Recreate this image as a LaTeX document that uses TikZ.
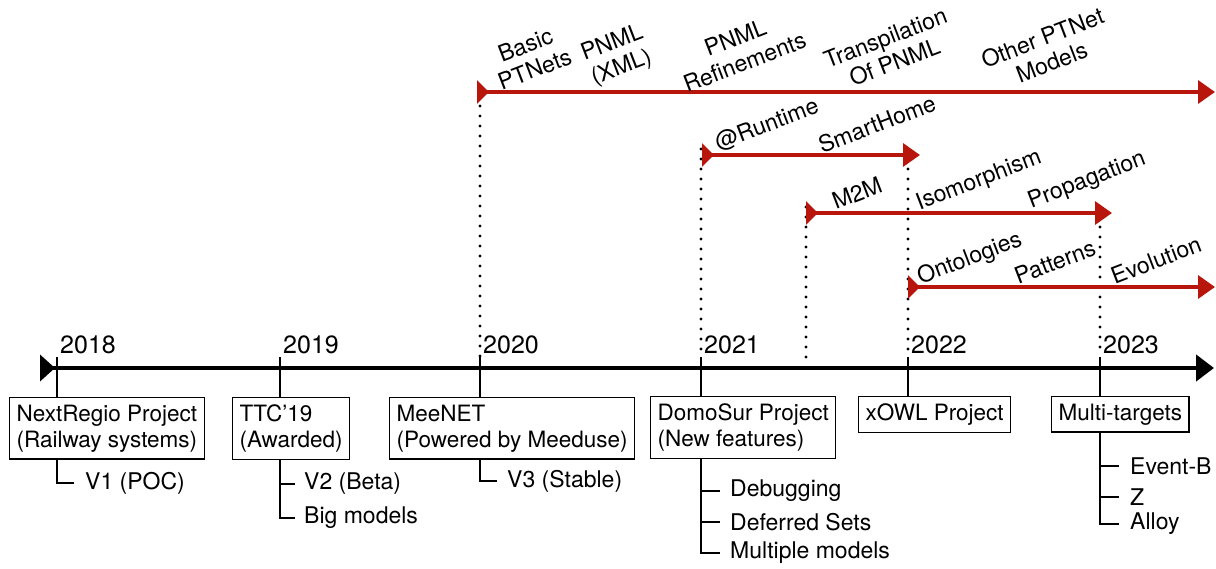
\documentclass[tikz,border=0pt]{standalone}
\usepackage{fontspec}
\setmainfont{TeX Gyre Heros}
\usetikzlibrary{arrows.meta}
\definecolor{tlred}{RGB}{184,22,12}
\begin{document}
\begin{tikzpicture}[x=1pt,y=-1pt,
  every node/.style={font=\fontsize{22.5}{26}\selectfont},
  projbox/.style={draw, line width=1.2pt, align=left, inner xsep=7pt, inner ysep=7pt, anchor=north west},
  subitem/.style={anchor=west, inner sep=0pt, font=\fontsize{23}{26}\selectfont},
  yearlbl/.style={anchor=base west, inner sep=0pt, font=\fontsize{25}{28}\selectfont},
  lbl/.style={rotate=21, align=center, inner sep=0pt, font=\fontsize{23}{26}\selectfont},
  yeartick/.style={line width=1.8pt},
  branch/.style={line width=1.5pt},
  timeline/.style={line width=4.5pt, {Triangle[reversed,length=15pt,width=26pt]}-{Triangle[length=18pt,width=26pt]}},
  redarrow/.style={tlred, line width=3.5pt, {Triangle[reversed,length=12pt,width=23pt]}-{Triangle[length=17pt,width=23pt]}},
  dotline/.style={line width=3.2pt, dash pattern=on 0pt off 10pt, line cap=round},
]
\useasboundingbox (0,0) rectangle (1216,568);

% main timeline
\coordinate (ls) at (40,368);
\coordinate (le) at (1214,368);
\draw[timeline] (ls) -- (le);

% years
\foreach \n/\x in {2018/57,2019/280,2020/480,2021/701,2022/908,2023/1100}{
  \coordinate (y\n) at (\x,357);
  \node[yearlbl] (yl\n) at (\x+3,353) {\n};
}
\coordinate (m2mbase) at (806,358);

% project boxes
\node[projbox] (nr) at (9,397) {NextRegio Project\\(Railway systems)};
\node[projbox] (ttc) at (232,397) {TTC’19\\(Awarded)};
\node[projbox] (mee) at (389,397) {MeeNET\\(Powered by Meeduse)};
\node[projbox] (ds) at (650,396) {DomoSur Project\\(New features)};
\node[projbox] (xowl) at (858,396) {xOWL Project};
\node[projbox] (mt) at (1051,396) {Multi-targets};

\draw[yeartick] (y2018) -- (y2018 |- nr.north);
\draw[yeartick] (y2019) -- (y2019 |- ttc.north);
\draw[yeartick] (y2020) -- (y2020 |- mee.north);
\draw[yeartick] (y2021) -- (y2021 |- ds.north);
\draw[yeartick] (y2022) -- (y2022 |- xowl.north);
\draw[yeartick] (y2023) -- (y2023 |- mt.north);

% sub items
\node[subitem] (v1) at (85,483) {V1 (POC)};
\node[subitem] (v2) at (304,484) {V2 (Beta)};
\node[subitem] (big) at (304,518) {Big models};
\node[subitem] (v3) at (507,481) {V3 (Stable)};
\node[subitem] (deb) at (730,491) {Debugging};
\node[subitem] (defs) at (730,522) {Deferred Sets};
\node[subitem] (mult) at (730,553) {Multiple models};
\node[subitem] (evb) at (1130,466) {Event-B};
\node[subitem] (zz) at (1130,497) {Z};
\node[subitem] (alloy) at (1130,524) {Alloy};

\draw[branch] (y2018 |- nr.south) |- ([xshift=-11pt]v1.west);
\draw[branch] (y2019 |- ttc.south) |- ([xshift=-9pt]v2.west);
\draw[branch] (y2019 |- ttc.south) |- ([xshift=-9pt]big.west);
\draw[branch] (y2020 |- mee.south) |- ([xshift=-10pt]v3.west);
\draw[branch] (y2021 |- ds.south) |- ([xshift=-10pt]deb.west);
\draw[branch] (y2021 |- ds.south) |- ([xshift=-10pt]defs.west);
\draw[branch] (y2021 |- ds.south) |- ([xshift=-10pt]mult.west);
\draw[branch] (y2023 |- mt.south) |- ([xshift=-11pt]evb.west);
\draw[branch] (y2023 |- mt.south) |- ([xshift=-11pt]zz.west);
\draw[branch] (y2023 |- mt.south) |- ([xshift=-11pt]alloy.west);

% red arrows
\coordinate (a1s) at (477,92);   \coordinate (a1e) at (1215,92);
\coordinate (a2s) at (702,155);  \coordinate (a2e) at (920,155);
\coordinate (a3s) at (806,213);  \coordinate (a3e) at (1112,213);
\coordinate (a4s) at (908,287);  \coordinate (a4e) at (1215,287);

% dotted guides
\draw[dotline] ([yshift=6pt]y2020 |- a1s) -- (y2020);
\draw[dotline] ([yshift=6pt]y2021 |- a2s) -- (y2021);
\draw[dotline] ([yshift=6pt]m2mbase |- a3s) -- (m2mbase);
\draw[dotline] ([yshift=6pt]y2022 |- a2e) -- (y2022);
\draw[dotline] ([yshift=6pt]y2023 |- a3e) -- (y2023);

\draw[redarrow] (a1s) -- (a1e);
\draw[redarrow] (a2s) -- (a2e);
\draw[redarrow] (a3s) -- (a3e);
\draw[redarrow] (a4s) -- (a4e);

% labels
\node[lbl] (l1) at (530,57) {Basic\\PTNets};
\node[lbl] (l2) at (617,56) {PNML\\(XML)};
\node[lbl] (l3) at (740,50) {PNML\\Refinements};
\node[lbl] (l4) at (890,50) {Transpilation\\Of PNML};
\node[lbl] (l5) at (1047,50) {Other PTNet\\Models};
\node[lbl] (l6) at (767,125) {@Runtime};
\node[lbl] (l7) at (877,124) {SmartHome};
\node[lbl] (l8) at (857,193) {M2M};
\node[lbl] (l9) at (979,181) {Isomorphism};
\node[lbl] (l10) at (1087,181) {Propagation};
\node[lbl] (l11) at (970,259) {Ontologies};
\node[lbl] (l12) at (1055,262) {Patterns};
\node[lbl] (l13) at (1156,260) {Evolution};
\end{tikzpicture}
\end{document}
